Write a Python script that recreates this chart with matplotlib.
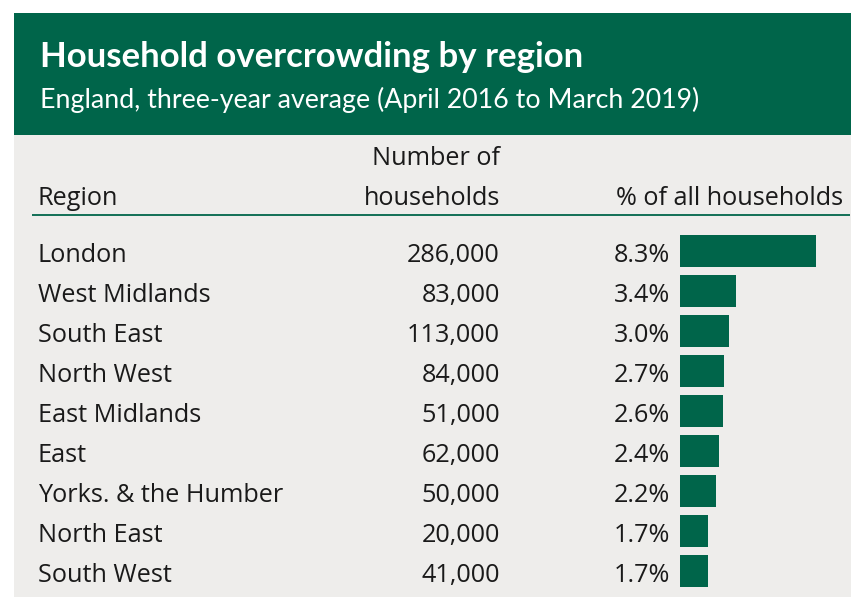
#!/usr/bin/env python3
"""Household overcrowding by region - table with inline bars."""

import matplotlib.pyplot as plt
from matplotlib.patches import Rectangle

regions = [
    "London",
    "West Midlands",
    "South East",
    "North West",
    "East Midlands",
    "East",
    "Yorks. & the Humber",
    "North East",
    "South West",
]
households = [286000, 83000, 113000, 84000, 51000, 62000, 50000, 20000, 41000]
pct_households = [8.3, 3.4, 3.0, 2.7, 2.6, 2.4, 2.2, 1.7, 1.7]

GREEN = "#00654a"
GREY = "#eeedeb"
TEXT = "#1a1a1a"
BODY_FONT = "Open Sans"
TITLE_FONT = "Lato"

W, H = 851, 597
ROW0, ROW_STEP = 251, 40


def main() -> None:
    fig = plt.figure(figsize=(W / 100, H / 100), dpi=100)
    fig.patch.set_facecolor("white")

    # background axes in pixel coordinates for layout and text
    bg = fig.add_axes([0, 0, 1, 1])
    bg.set_xlim(0, W)
    bg.set_ylim(H, 0)
    bg.axis("off")
    bg.add_patch(Rectangle((14, 13), W - 14, 122, color=GREEN, lw=0))
    bg.add_patch(Rectangle((14, 135), W - 14, H - 135, color=GREY, lw=0))

    bg.text(40, 67, "Household overcrowding by region", color="white",
            fontsize=25, fontweight="bold", family=TITLE_FONT, va="baseline")
    bg.text(40, 108, "England, three-year average (April 2016 to March 2019)",
            color="white", fontsize=19.3, family=TITLE_FONT, va="baseline")

    hdr = dict(color=TEXT, fontsize=18.2, family=BODY_FONT, va="baseline")
    bg.text(38, 205, "Region", ha="left", **hdr)
    bg.text(500, 165, "Number of", ha="right", **hdr)
    bg.text(500, 205, "households", ha="right", **hdr)
    bg.text(843, 205, "% of all households", ha="right", **hdr)
    bg.plot([32, 850], [215, 215], color=GREEN, lw=1.3, solid_capstyle="butt")

    body = dict(color=TEXT, fontsize=18.2, family=BODY_FONT, va="baseline")
    for i, (name, n, p) in enumerate(zip(regions, households, pct_households)):
        y = ROW0 + ROW_STEP * i + 11
        bg.text(38, y, name, ha="left", **body)
        bg.text(500, y, f"{n:,}", ha="right", **body)
        bg.text(670, y, f"{p:.1f}%", ha="right", **body)

    # bar axes: rows aligned with the table rows
    px_per_pct = 136 / 8.3
    left, right = 680, W
    top = ROW0 - ROW_STEP / 2
    bottom = ROW0 + ROW_STEP * (len(regions) - 0.5)
    ax = fig.add_axes([left / W, (H - bottom) / H, (right - left) / W, (bottom - top) / H])
    ax.barh(range(len(regions)), pct_households, height=0.8, color=GREEN, lw=0)
    ax.set_xlim(0, (right - left) / px_per_pct)
    ax.set_ylim(len(regions) - 0.5, -0.5)
    ax.axis("off")

    fig.savefig("out.png", dpi=100, facecolor=fig.get_facecolor())


if __name__ == "__main__":
    main()
